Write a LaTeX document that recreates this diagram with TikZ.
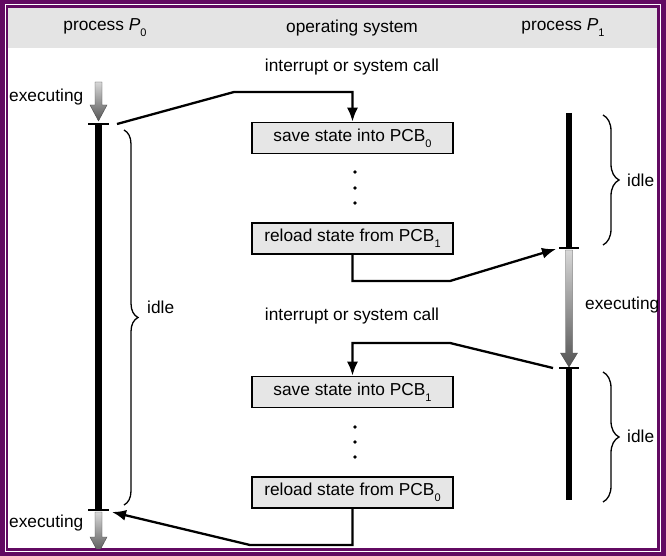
\documentclass[tikz,border=0pt]{standalone}
\usepackage{fontspec}
\setmainfont{Liberation Sans}
\usetikzlibrary{arrows.meta,decorations.pathreplacing,calc}
\definecolor{framec}{RGB}{98,10,98}
\definecolor{hdr}{RGB}{228,228,228}
\definecolor{boxfill}{RGB}{230,230,230}
\definecolor{gtop}{RGB}{215,215,215}
\definecolor{gbot}{RGB}{85,85,85}
\newcommand\sbs[1]{\raisebox{-0.65ex}{\fontsize{11}{11}\selectfont #1}}
\newcommand\myGradArrow[4]{%
  \shade[top color=gtop, bottom color=gbot, draw=gray!60!black, line width=0.4pt]
    ({#1-3.5},#2) -- ({#1+3.5},#2) -- ({#1+3.5},#3) -- ({#1+8.5},#3) --
    (#1,#4) -- ({#1-8.5},#3) -- ({#1-3.5},#3) -- cycle;}
\begin{document}
\begin{tikzpicture}[x=1pt,y=-1pt,
  font=\fontsize{17.3}{20}\selectfont,
  txt/.style={inner sep=0pt},
  box/.style={draw, line width=1.6pt, fill=boxfill, minimum width=201pt,
    minimum height=31pt, inner sep=0pt},
  conn/.style={line width=2.3pt},
  arr/.style={conn, -{Latex[length=14pt,width=11pt]}},
  bar/.style={line width=6.5pt},
  tick/.style={line width=1.3pt},
  brc/.style={line width=1.3pt, decorate},
  dot/.style={circle, fill, inner sep=0pt, minimum size=3.6pt}]
\useasboundingbox (0,0) rectangle (666,556);
% frame
\fill[framec] (0,0) rectangle (666,556);
\draw[white, line width=1pt] (5,5) rectangle (660,551);
\fill[white] (8,8) rectangle (657,548);
\begin{scope}
\clip (8,8) rectangle (657,548);
\fill[hdr] (8,8) rectangle (657,48);
% headers
\node[txt] (h0) at (105,28) {process \textit{P}\sbs{0}};
\node[txt] (hos) at (352,28) {operating system};
\node[txt] (h1) at (563,28) {process \textit{P}\sbs{1}};
\node[txt] (int1) at (352,67) {interrupt or system call};
\node[txt] (int2) at (352,316) {interrupt or system call};
% boxes
\node[box] (b1) at (352.5,138) {save state into PCB\sbs{0}};
\node[box] (b2) at (352.5,238.5) {reload state from PCB\sbs{1}};
\node[box] (b3) at (352.5,392) {save state into PCB\sbs{1}};
\node[box] (b4) at (352.5,492.5) {reload state from PCB\sbs{0}};
% dots
\node[dot] (d1) at (355,172) {};
\node[dot] (d2) at (355,188) {};
\node[dot] (d3) at (355,203) {};
\node[dot] (d4) at (355,427) {};
\node[dot] (d5) at (355,442) {};
\node[dot] (d6) at (355,457) {};
% labels
\node[txt, anchor=west] (ex0) at (9,97) {executing};
\node[txt, anchor=west] (ex1) at (9,523) {executing};
\node[txt, anchor=west] (ex2) at (585,305) {executing};
\node[txt, anchor=west] (id0) at (147,307) {idle};
\node[txt, anchor=west] (id1) at (627,180) {idle};
\node[txt, anchor=west] (id2) at (627,436) {idle};
% timelines
\coordinate (p0a) at (98.5,124);
\coordinate (p0b) at (98.5,510);
\coordinate (p1a) at (569,113);
\coordinate (p1b) at (569,248);
\coordinate (p1c) at (569,368);
\coordinate (p1d) at (569,500);
\draw[bar] (p0a) -- (p0b);
\draw[bar] (p1a) -- (p1b);
\draw[bar] (p1c) -- (p1d);
\myGradArrow{98.5}{82}{105}{121}
\myGradArrow{98.5}{512}{537}{553}
\myGradArrow{569}{250}{353}{367}
\draw[tick] ($(p0a)+(-10.5,0)$) -- ($(p0a)+(10.5,0)$);
\draw[tick] ($(p0b)+(-10.5,0)$) -- ($(p0b)+(10.5,0)$);
\draw[tick] ($(p1b)+(-10,0)$) -- ($(p1b)+(10,0)$);
\draw[tick] ($(p1c)+(-10,0)$) -- ($(p1c)+(10,0)$);
% braces
\draw[brc, decoration={brace, amplitude=14pt}] (124,130) -- (124,505);
\draw[brc, decoration={brace, amplitude=16pt}] (603,115) -- (603,245);
\draw[brc, decoration={brace, amplitude=16pt}] (603,372) -- (603,502);
% connectors
\coordinate (c1s) at (117,124);
\coordinate (c1m) at (234,92);
\draw[arr] (c1s) -- (c1m) -| (b1.north);
\coordinate (c2m) at (450,281);
\coordinate (c2e) at (556,249);
\draw[arr] (b2.south) |- (c2m) -- (c2e);
\coordinate (c3s) at (553,368);
\coordinate (c3m) at (450,343);
\draw[arr] (c3s) -- (c3m) -| (b3.north);
\coordinate (c4m) at (250,545);
\coordinate (c4e) at (112,512);
\draw[arr] (b4.south) |- (c4m) -- (c4e);
\end{scope}
\end{tikzpicture}
\end{document}
